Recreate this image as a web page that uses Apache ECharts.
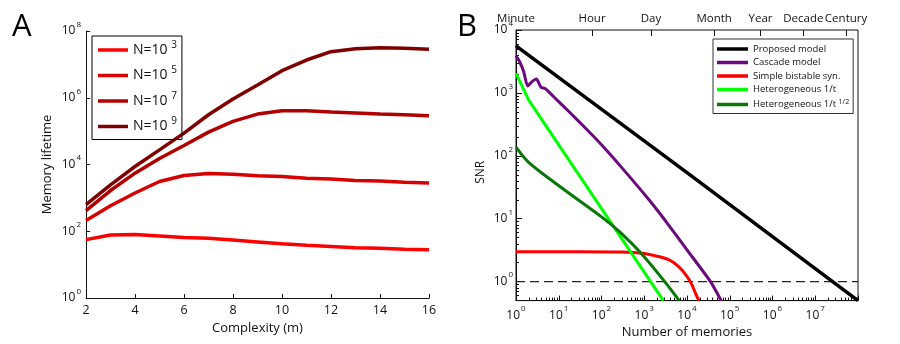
<!DOCTYPE html>
<html>
<head>
<meta charset="utf-8">
<title>Memory lifetime and SNR</title>
<script src="https://cdn.jsdelivr.net/npm/echarts@6/dist/echarts.min.js"></script>
<style>
  html, body { margin: 0; padding: 0; background: #fff; }
  #chart { width: 900px; height: 344px; }
</style>
</head>
<body>
<div id="chart"></div>
<script>
// ---- panel A: memory lifetime vs complexity ----
const complexity = [2, 3, 4, 5, 6, 7, 8, 9, 10, 11, 12, 13, 14, 15, 16];
const lifeN3 = [56, 77, 80, 72, 65, 62, 55, 48, 42, 38, 35, 32, 31, 29, 28];
const lifeN5 = [210, 580, 1400, 3100, 4700, 5400, 5100, 4600, 4400, 3900, 3700, 3300, 3200, 2950, 2800];
const lifeN7 = [417, 1660, 5500, 15100, 37200, 93300, 195000, 324000, 407000, 407000, 372000, 347000, 324000, 309000, 288000];
const lifeN9 = [631, 2450, 8710, 27500, 87100, 309000, 912000, 2400000, 6460000, 13500000, 24000000, 29500000, 31600000, 30200000, 28200000];
const lifeTicks = [1, 1e2, 1e4, 1e6, 1e8];

// ---- panel B: SNR vs number of memories, [memories, snr] ----
const snrProposed = [[1, 5600], [1e4, 54], [1e8, 0.5]];
const snrCascade = [[1, 3900], [1.21, 3160], [1.51, 2190], [1.87, 1290], [2.37, 1510], [3.0, 1660], [3.85, 1230],
  [4.86, 1170], [7.6, 870], [18.7, 480], [46, 260], [100, 150], [316, 62], [1290, 20], [3160, 9.2],
  [10000, 3.2], [35500, 1], [63000, 0.5]];
const snrBistable = [[1, 3.0], [30, 3.0], [300, 2.95], [1000, 2.8], [1700, 2.6], [2800, 2.4], [4200, 2.15],
  [6000, 1.8], [7800, 1.5], [10000, 1.2], [12000, 1.0], [14000, 0.8], [16000, 0.64], [19000, 0.5]];
const snrHet1 = [[1, 2050], [2, 760], [2800, 0.5]];
const snrHetHalf = [[1, 137], [2, 78], [11, 32], [104, 10.5], [279, 6.0], [813, 2.9], [2880, 1.04], [6600, 0.5]];
const snrThreshold = [[1, 1], [1e8, 1]];

const memDecades = [1, 10, 100, 1e3, 1e4, 1e5, 1e6, 1e7, 1e8];
const memLabels = [1, 10, 100, 1e3, 1e4, 1e5, 1e6, 1e7];
const snrDecades = [1, 10, 100, 1e3, 1e4];
const timeTicks = [1, 60, 1440, 43200, 525600, 5256000, 52560000];
const timeNames = ['Minute', 'Hour', 'Day', 'Month', 'Year', 'Decade', 'Century'];

// minor log ticks 2..9 in every decade
function minorTicks(lo, hi) {
  const out = [];
  for (let d = lo; d <= hi; d *= 10) {
    for (let k = 2; k <= 9; k++) out.push(+(k * d).toPrecision(3));
  }
  return out;
}
const memMinor = minorTicks(1, 1e7);
const snrMinor = [0.5, 0.6, 0.7, 0.8, 0.9].concat(minorTicks(1, 1e3));

const FONT = '"Open Sans", "Noto Sans", sans-serif';
const INK = '#111';

function powLabel(v) {
  return '{b|10}{s|' + Math.round(Math.log10(v)) + '}';
}
const powRich = {
  b: { fontSize: 12, lineHeight: 21, color: INK, fontFamily: FONT },
  s: { fontSize: 8, lineHeight: 8, verticalAlign: 'top', color: INK, fontFamily: FONT, padding: [0, 0, 0, 1] }
};
// "N=10^3" -> base text plus a raised exponent
function legendText(name) {
  const i = name.indexOf('^');
  if (i < 0) return '{b|' + name + '}';
  return '{b|' + name.slice(0, i) + ' }{s|' + name.slice(i + 1) + '}';
}

function line(name, data, color, width, xi, yi) {
  return {
    name: name, type: 'line', data: data, xAxisIndex: xi, yAxisIndex: yi,
    showSymbol: false, symbol: 'none', silent: true, animation: false,
    lineStyle: { color: color, width: width }, itemStyle: { color: color }
  };
}
const pairs = ys => complexity.map((m, i) => [m, ys[i]]);

const axisLine = { show: true, lineStyle: { color: INK, width: 1 } };

const chart = echarts.init(document.getElementById('chart'));
chart.setOption({
  animation: false,
  textStyle: { fontFamily: FONT, color: INK },
  title: [
    { text: 'A', left: 12, top: 12, padding: 0, textStyle: { fontSize: 31, fontWeight: 'normal', color: '#000', fontFamily: FONT } },
    { text: 'B', left: 457, top: 12, padding: 0, textStyle: { fontSize: 31, fontWeight: 'normal', color: '#000', fontFamily: FONT } }
  ],
  grid: [
    { left: 86, right: 471, top: 31, bottom: 46 },
    { left: 516, right: 42, top: 30, bottom: 42, show: true, borderColor: INK, borderWidth: 1, backgroundColor: 'transparent' }
  ],
  legend: [
    {
      data: ['N=10^3', 'N=10^5', 'N=10^7', 'N=10^9'],
      left: 92, top: 36, orient: 'vertical',
      padding: [4, 5, 3, 6], itemGap: 5.5, itemWidth: 30, itemHeight: 3.5, icon: 'rect',
      borderColor: '#000', borderWidth: 1, selectedMode: false,
      formatter: legendText,
      textStyle: {
        fontSize: 14, fontFamily: FONT, color: INK, lineHeight: 20,
        rich: {
          b: { fontSize: 14, lineHeight: 20, color: INK, fontFamily: FONT },
          s: { fontSize: 10, lineHeight: 10, verticalAlign: 'top', color: INK, fontFamily: FONT }
        }
      }
    },
    {
      data: ['Proposed model', 'Cascade model', 'Simple bistable syn.', 'Heterogeneous 1/t', 'Heterogeneous 1/t^1/2'],
      left: 713, top: 39, orient: 'vertical',
      padding: [5, 4, 4, 4], itemGap: 3.5, itemWidth: 31, itemHeight: 3.5, icon: 'rect',
      borderColor: '#333', borderWidth: 1, selectedMode: false,
      formatter: legendText,
      textStyle: {
        fontSize: 9.5, fontFamily: FONT, color: INK,
        rich: {
          b: { fontSize: 9.5, lineHeight: 13, color: INK, fontFamily: FONT },
          s: { fontSize: 7, lineHeight: 7, verticalAlign: 'top', color: INK, fontFamily: FONT }
        }
      }
    }
  ],
  xAxis: [
    {
      gridIndex: 0, type: 'value', min: 2, max: 16, interval: 2,
      name: 'Complexity (m)', nameLocation: 'middle', nameGap: 21,
      nameTextStyle: { fontSize: 13, color: INK },
      axisLine: axisLine,
      axisTick: { inside: true, length: 4, lineStyle: { color: INK } },
      axisLabel: { fontSize: 12.5, color: INK, margin: 6 },
      splitLine: { show: false }
    },
    {
      gridIndex: 1, type: 'log', min: 1, max: 1e8, position: 'bottom',
      name: 'Number of memories', nameLocation: 'middle', nameGap: 24,
      nameTextStyle: { fontSize: 13, color: INK },
      axisLine: axisLine,
      axisTick: { inside: true, length: 5, customValues: memDecades, lineStyle: { color: INK } },
      axisLabel: { customValues: memLabels, formatter: powLabel, rich: powRich, margin: 4 },
      splitLine: { show: false }
    },
    {
      gridIndex: 1, type: 'log', min: 1, max: 1e8, position: 'bottom',
      axisLine: { show: false },
      axisTick: { inside: true, length: 3, customValues: memMinor, lineStyle: { color: INK } },
      axisLabel: { show: false },
      splitLine: { show: false }
    },
    {
      gridIndex: 1, type: 'log', min: 1, max: 1e8, position: 'top',
      axisLine: { show: false },
      axisTick: { inside: true, length: 6, customValues: timeTicks, lineStyle: { color: INK } },
      axisLabel: {
        customValues: timeTicks, fontSize: 11.5, color: INK, margin: 5,
        formatter: function (v) {
          let best = 0;
          timeTicks.forEach((t, i) => {
            if (Math.abs(Math.log10(t / v)) < Math.abs(Math.log10(timeTicks[best] / v))) best = i;
          });
          return timeNames[best];
        }
      },
      splitLine: { show: false }
    }
  ],
  yAxis: [
    {
      gridIndex: 0, type: 'log', min: 1, max: 1e8,
      name: 'Memory lifetime', nameLocation: 'middle', nameGap: 32,
      nameTextStyle: { fontSize: 13, color: INK },
      axisLine: axisLine,
      axisTick: { inside: true, length: 4, customValues: lifeTicks, lineStyle: { color: INK } },
      axisLabel: { customValues: lifeTicks, formatter: powLabel, rich: powRich, margin: 5 },
      splitLine: { show: false }
    },
    {
      gridIndex: 1, type: 'log', min: 0.5, max: 1e4, position: 'left',
      name: 'SNR', nameLocation: 'middle', nameGap: 29,
      nameTextStyle: { fontSize: 12, color: INK, padding: [0, 14, 0, 0] },
      axisLine: axisLine,
      axisTick: { inside: true, length: 6, customValues: snrDecades, lineStyle: { color: INK } },
      axisLabel: { customValues: snrDecades, formatter: powLabel, rich: powRich, margin: 3 },
      splitLine: { show: false }
    },
    {
      gridIndex: 1, type: 'log', min: 0.5, max: 1e4, position: 'left',
      axisLine: { show: false },
      axisTick: { inside: true, length: 3, customValues: snrMinor, lineStyle: { color: INK } },
      axisLabel: { show: false },
      splitLine: { show: false }
    }
  ],
  series: [
    line('N=10^3', pairs(lifeN3), '#ff0000', 3.5, 0, 0),
    line('N=10^5', pairs(lifeN5), '#d80000', 3.5, 0, 0),
    line('N=10^7', pairs(lifeN7), '#b00000', 3.5, 0, 0),
    line('N=10^9', pairs(lifeN9), '#800000', 3.5, 0, 0),

    Object.assign(line('threshold', snrThreshold, '#222', 1.2, 1, 1), {
      lineStyle: { color: '#222', width: 1.2, type: [9, 5] }
    }),
    line('Proposed model', snrProposed, '#000000', 3.5, 1, 1),
    Object.assign(line('Cascade model', snrCascade, '#6a0a7e', 3, 1, 1), { smooth: 0.2 }),
    Object.assign(line('Simple bistable syn.', snrBistable, '#ff0000', 3, 1, 1), { smooth: 0.3 }),
    line('Heterogeneous 1/t', snrHet1, '#00ff00', 3, 1, 1),
    Object.assign(line('Heterogeneous 1/t^1/2', snrHetHalf, '#087808', 3, 1, 1), { smooth: 0.3 })
  ]
});
</script>
</body>
</html>
